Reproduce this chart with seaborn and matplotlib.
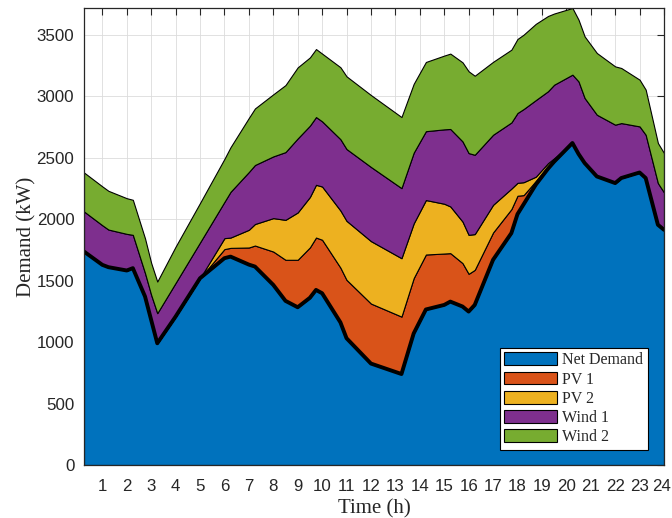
import numpy as np
import pandas as pd
import matplotlib
matplotlib.use("Agg")
import matplotlib.pyplot as plt
import matplotlib.transforms as mtransforms
import seaborn as sns

# Time of day (h) at each breakpoint of the load/generation profile
hours = [0.25, 1.0, 1.25, 2.0, 2.25, 2.75, 3.0, 3.25, 4.0, 5.0,
         6.0, 6.25, 7.0, 7.25, 8.0, 8.5, 9.0, 9.5, 9.75, 10.0,
         10.75, 11.0, 12.0, 13.25, 13.75, 14.25, 15.0, 15.25, 15.75, 16.0,
         16.25, 17.0, 17.75, 18.0, 18.25, 18.75, 19.25, 19.5, 20.25, 20.5,
         20.75, 21.25, 22.0, 22.25, 23.0, 23.25, 23.75, 24.0]

# Power contributions (kW)
net_demand = [1736, 1628, 1609, 1582, 1601, 1370, 1180, 990, 1207, 1519,
              1682, 1695, 1630, 1614, 1465, 1335, 1283, 1360, 1424, 1397,
              1160, 1031, 825, 740, 1070, 1265, 1302, 1329, 1289, 1248,
              1302, 1669, 1886, 2040, 2120, 2280, 2410, 2467, 2619, 2530,
              2456, 2347, 2293, 2334, 2379, 2334, 1954, 1913]
pv1 = [0, 0, 0, 0, 0, 0, 0, 0, 0, 0,
       74, 71, 139, 171, 271, 334, 386, 410, 426, 435,
       445, 475, 488, 467, 450, 447, 418, 394, 353, 307,
       285, 222, 195, 150, 75, 30, 20, 13, 0, 0,
       0, 0, 0, 0, 0, 0, 0, 0]
pv2 = [0, 0, 0, 0, 0, 0, 0, 0, 0, 0,
       89, 84, 144, 175, 272, 325, 385, 410, 429, 433,
       465, 480, 508, 475, 445, 443, 405, 380, 338, 317,
       291, 225, 167, 105, 105, 35, 25, 15, 0, 0,
       0, 0, 0, 0, 0, 0, 0, 0]
wind1 = [326, 322, 306, 298, 271, 190, 204, 245, 274, 291,
         295, 372, 470, 480, 502, 551, 602, 580, 551, 530,
         580, 584, 603, 570, 575, 560, 605, 630, 652, 665,
         645, 570, 538, 568, 595, 623, 585, 598, 556, 590,
         529, 502, 475, 447, 375, 352, 339, 304]
wind2 = [317, 316, 315, 290, 285, 282, 260, 257, 295, 321,
         350, 363, 440, 460, 505, 545, 578, 555, 553, 551,
         585, 591, 585, 578, 560, 563, 600, 613, 643, 665,
         643, 593, 592, 602, 605, 620, 612, 579, 542, 502,
         501, 502, 474, 448, 380, 367, 326, 320]

labels = ["Net Demand", "PV 1", "PV 2", "Wind 1", "Wind 2"]
colors = ["#0072BD", "#D95319", "#EDB120", "#7E2F8E", "#77AC30"]

df = pd.DataFrame({"Time": hours, "Net Demand": net_demand, "PV 1": pv1,
                   "PV 2": pv2, "Wind 1": wind1, "Wind 2": wind2})

sns.set_style("white")
plt.rcParams["font.family"] = ["Liberation Sans", "DejaVu Sans"]

fig = plt.figure(figsize=(6.72, 5.18), dpi=100)
ax = fig.add_axes([84 / 672, 1 - 465 / 518, 580 / 672, 457 / 518])

ax.stackplot(df["Time"], [df[c] for c in labels], labels=labels,
             colors=colors, edgecolor="black", linewidth=0.8, zorder=2)
sns.lineplot(data=df, x="Time", y="Net Demand", color="black",
             linewidth=2.8, ax=ax, zorder=3, legend=False)

total = df[labels].sum(axis=1)
ax.set_xlim(0.25, 24)
ax.set_ylim(0, total.max())
ax.set_xticks(range(1, 25))
ax.set_yticks(range(0, 3501, 500))
ax.grid(True, color="#dcdcdc", linewidth=0.6, zorder=0)
ax.set_axisbelow(True)

ax.tick_params(direction="in", length=5, width=0.8, colors="#262626",
               labelsize=12.2, top=True, right=True, pad=7)
ax.tick_params(axis="x", pad=10)
for sp in ax.spines.values():
    sp.set_color("#262626")
    sp.set_linewidth(0.9)
    sp.set_zorder(5)

# keep the last hour label inside the canvas
fig.canvas.draw()
last = ax.get_xticklabels()[-1]
last.set_transform(last.get_transform() +
                   mtransforms.ScaledTranslation(-2 / 100, 0, fig.dpi_scale_trans))

serif = ["Liberation Serif", "DejaVu Serif"]
ax.set_xlabel("Time (h)", family=serif, fontsize=15, color="#262626", labelpad=4)
ax.set_ylabel("Demand (kW)", family=serif, fontsize=15, color="#262626", labelpad=0)

leg = ax.legend(loc="lower right", bbox_to_anchor=(0.972, 0.033),
                borderaxespad=0, prop={"family": serif, "size": 11.5},
                handlelength=3.3, handleheight=0.85, labelspacing=0.2,
                handletextpad=0.3, borderpad=0.3, fancybox=False,
                framealpha=1, edgecolor="black")
leg.get_frame().set_linewidth(0.8)
leg.set_zorder(6)

fig.savefig("out.png", dpi=100)
